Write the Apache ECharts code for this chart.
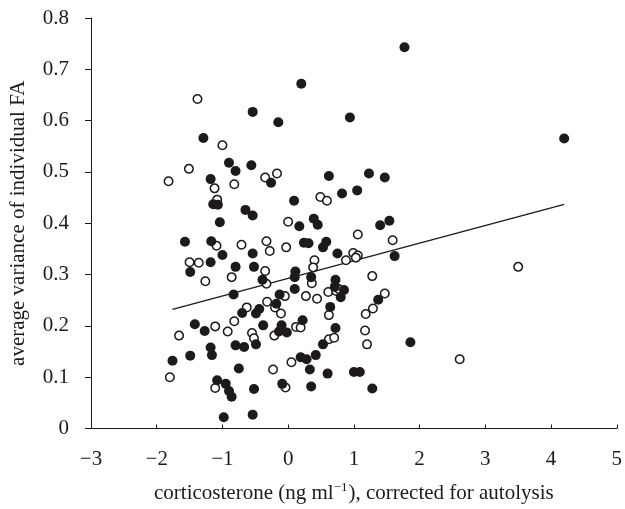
<!DOCTYPE html>
<html>
<head>
<meta charset="utf-8">
<script src="https://cdn.jsdelivr.net/npm/echarts@6/dist/echarts.min.js"></script>
<style>html,body{margin:0;padding:0;background:#fff}#c{width:625px;height:509px}</style>
</head>
<body>
<div id="c"></div>
<script>
// filled circles: [x, y]
const filledPoints = [
  [0.20,0.672],[-0.54,0.617],[-0.15,0.597],[0.94,0.606],[-1.29,0.566],[-0.90,0.518],[-0.80,0.502],
  [-0.56,0.513],[-1.18,0.486],[-0.26,0.479],[0.62,0.492],[0.82,0.458],[-1.14,0.437],[-1.07,0.436],
  [0.09,0.444],[-0.65,0.426],[-0.54,0.415],[-1.04,0.402],[0.17,0.394],[0.39,0.409],[0.45,0.397],
  [-1.57,0.364],[-1.17,0.365],[0.24,0.362],[0.31,0.361],[0.58,0.364],[0.53,0.353],[0.75,0.341],
  [-1.00,0.338],[-0.54,0.341],
  [-1.18,0.324],[-0.80,0.315],[-0.52,0.315],[-1.49,0.305],[-0.39,0.290],[0.11,0.306],[0.10,0.295],
  [0.35,0.295],[0.72,0.290],[0.71,0.276],[0.85,0.270],[0.80,0.256],[0.10,0.272],[-0.83,0.261],
  [-0.13,0.261],[-0.18,0.243],[-0.44,0.233],[-0.49,0.224],[-0.70,0.225],[0.64,0.237],[0.22,0.211],
  [-1.42,0.203],[-1.27,0.190],[-0.38,0.201],[-0.10,0.201],[-0.14,0.189],[-0.02,0.187],[0.72,0.196],
  [-0.49,0.164],[0.53,0.164],[-1.18,0.158],[-1.16,0.143],[-0.80,0.162],[-0.67,0.159],[-1.76,0.132],
  [-1.49,0.142],[0.19,0.139],[0.28,0.135],[0.42,0.143],[-0.75,0.117],[0.33,0.115],[0.60,0.107],
  [-1.08,0.094],[-0.95,0.087],[-0.90,0.073],[-0.86,0.062],[-0.52,0.077],[-0.09,0.087],[0.35,0.082],
  [-0.98,0.022],[-0.54,0.027],
  [1.77,0.743],[1.23,0.497],[1.47,0.489],[1.05,0.464],[1.40,0.396],[1.54,0.405],
  [1.62,0.336],[1.37,0.251],[1.86,0.168],[1.00,0.110],[1.09,0.110],[1.28,0.078],
  [4.20,0.565]
];
// open circles: [x, y]
const openPoints = [
  [-1.38,0.642],[-1.00,0.552],[-1.51,0.506],[-1.82,0.482],[-1.12,0.468],[-0.82,0.476],[-0.35,0.489],
  [-0.17,0.497],[-1.08,0.446],[0.49,0.451],[0.59,0.444],[0.00,0.403],[-1.09,0.356],[-0.71,0.358],
  [-0.33,0.365],[-0.28,0.346],[-0.03,0.353],
  [-1.50,0.324],[-1.36,0.323],[-0.35,0.307],[-1.26,0.287],[-0.86,0.295],[-0.33,0.282],[0.40,0.328],
  [0.38,0.314],[0.36,0.283],[0.88,0.328],[0.61,0.266],[0.73,0.268],[0.77,0.272],[-0.05,0.258],
  [0.27,0.258],[0.44,0.253],[-0.32,0.247],[-0.20,0.236],[-0.63,0.236],[-0.11,0.224],[0.62,0.221],
  [-0.82,0.209],[-1.11,0.199],[-0.92,0.189],[0.12,0.198],[0.19,0.197],[-0.55,0.186],[-0.52,0.176],
  [-0.21,0.181],[-1.66,0.181],[0.62,0.174],[0.70,0.177],[0.05,0.129],[-0.23,0.115],[-1.80,0.100],
  [-1.11,0.079],[-0.04,0.080],
  [1.06,0.378],[1.59,0.367],[0.99,0.342],[1.06,0.337],[1.03,0.333],[1.28,0.297],[1.18,0.223],
  [1.29,0.234],[1.47,0.263],[1.17,0.191],[1.20,0.164],[2.61,0.135],[3.50,0.315]
];
// regression line endpoints
const lineX = [-1.76, 4.20];
const lineY = [0.232, 0.437];

const xTicks = [-3,-2,-1,0,1,2,3,4,5];
const yTicks = [0,0.1,0.2,0.3,0.4,0.5,0.6,0.7,0.8];

const ink = '#1e1a1b';
const font = '"Liberation Serif", "Times New Roman", serif';

const chart = echarts.init(document.getElementById('c'), null, {renderer: 'canvas'});
chart.setOption({
  animation: false,
  backgroundColor: '#fff',
  grid: {left: 90, right: 5, top: 18, bottom: 75, containLabel: false},
  xAxis: {
    type: 'value', min: xTicks[0], max: xTicks[xTicks.length-1], interval: 1,
    splitLine: {show: false},
    axisLine: {onZero: false, lineStyle: {color: ink, width: 1}},
    axisTick: {inside: true, length: 4, lineStyle: {color: ink}},
    axisLabel: {color: ink, fontFamily: font, fontSize: 21, margin: 20,
      formatter: v => v < 0 ? '\u2212' + Math.abs(v) : String(v)},
    name: '{a|corticosterone (ng ml}{s|\u22121}{a|), corrected for autolysis}',
    nameLocation: 'middle', nameGap: 53,
    nameTextStyle: {color: ink, fontFamily: font, fontSize: 21,
      rich: {
        a: {color: ink, fontFamily: font, fontSize: 21, lineHeight: 24},
        s: {color: ink, fontFamily: font, fontSize: 13, lineHeight: 24, verticalAlign: 'top', padding: [0,1,0,0]}
      }}
  },
  yAxis: {
    type: 'value', min: 0, max: 0.8, interval: 0.1,
    splitLine: {show: false},
    axisLine: {onZero: false, lineStyle: {color: ink, width: 1}},
    axisTick: {inside: false, length: 6, lineStyle: {color: ink}},
    axisLabel: {color: ink, fontFamily: font, fontSize: 21, margin: 22,
      formatter: v => v === 0 ? '0' : v.toFixed(1)},
    name: 'average variance of individual FA',
    nameLocation: 'middle', nameGap: 62,
    nameTextStyle: {color: ink, fontFamily: font, fontSize: 21}
  },
  series: [
    {
      type: 'line', data: lineX.map((x, i) => [x, lineY[i]]),
      symbol: 'none', lineStyle: {color: ink, width: 1.3}, z: 1
    },
    {
      type: 'scatter', data: openPoints, symbol: 'circle', symbolSize: 8.5,
      itemStyle: {color: '#fff', borderColor: ink, borderWidth: 1.5, opacity: 1}, z: 2
    },
    {
      type: 'scatter', data: filledPoints, symbol: 'circle', symbolSize: 10,
      itemStyle: {color: ink, borderWidth: 0, opacity: 1}, z: 3
    }
  ]
});
</script>
</body>
</html>
